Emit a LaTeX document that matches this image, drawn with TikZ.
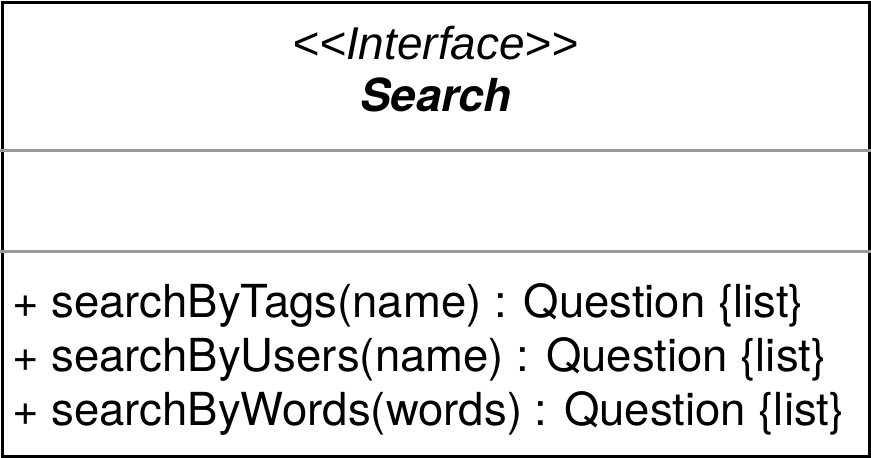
\documentclass[tikz,border=0pt]{standalone}
\usepackage{fontspec}
\setmainfont{TeX Gyre Heros}
\newfontfamily\stereofont{Liberation Sans}[Ligatures=NoCommon]
\begin{document}
\begin{tikzpicture}[x=1pt,y=-1pt,
  frame/.style={draw=black,line width=3pt},
  divider/.style={draw=black!40,line width=3pt},
  stereo/.style={font=\stereofont\fontsize{46}{50}\selectfont\itshape,inner sep=0pt},
  classname/.style={font=\fontsize{45.5}{50}\selectfont\bfseries\itshape,inner sep=0pt},
  member/.style={font=\fontsize{45.5}{50}\selectfont,inner sep=0pt,anchor=base west}]
  \useasboundingbox (0,0) rectangle (871,458);
  % class box
  \coordinate (tl) at (2,2);
  \coordinate (br) at (869,456);
  \draw[frame] (tl) rectangle (br);
  % compartments
  \coordinate (d1l) at (0,150);
  \coordinate (d1r) at (871,150);
  \coordinate (d2l) at (0,251);
  \coordinate (d2r) at (871,251);
  \draw[divider] (d1l) -- (d1r);
  \draw[divider] (d2l) -- (d2r);
  % header
  \node[stereo] (stereotype) at (435.5,43) {\textless\textless Interface\textgreater\textgreater};
  \node[classname] (name) at (436,95) {Search};
  % operations
  \node[member] (op1) at (12,317) {+ searchByTags(name) : Question \{list\}};
  \node[member] (op2) at (12,371) {+ searchByUsers(name) : Question \{list\}};
  \node[member] (op3) at (12,425) {+ searchByWords(words) : Question \{list\}};
\end{tikzpicture}
\end{document}
